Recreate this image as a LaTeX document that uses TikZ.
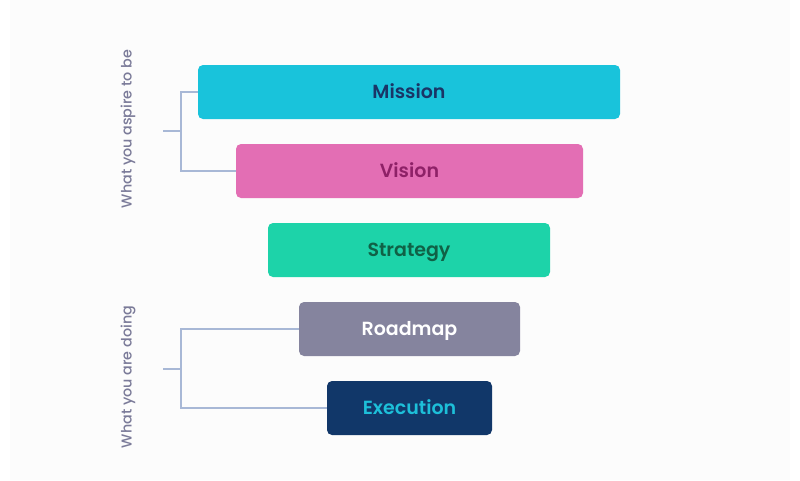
\documentclass[tikz,border=0pt]{standalone}
\usepackage{fontspec}
\setmainfont{Poppins}
\newfontfamily\popsemi{Poppins SemiBold}
\newfontfamily\popmed{Poppins Medium}
\definecolor{bgc}{HTML}{FCFCFC}
\definecolor{misc}{HTML}{19C3DB}
\definecolor{mist}{HTML}{1A3566}
\definecolor{visc}{HTML}{E36EB4}
\definecolor{vist}{HTML}{8E2167}
\definecolor{strc}{HTML}{1DD3A9}
\definecolor{strt}{HTML}{106146}
\definecolor{roac}{HTML}{85849E}
\definecolor{exec}{HTML}{113769}
\definecolor{exet}{HTML}{1DBFD9}
\definecolor{linec}{HTML}{A8B8D6}
\definecolor{labc}{HTML}{7B7B99}
\tikzset{
  bar/.style={rounded corners=5pt, inner sep=0pt, text height=12.6pt, text depth=0pt,
    font=\fontsize{19}{22}\popsemi},
  brk/.style={draw=linec, line width=1.2pt},
  side/.style={text=labc, font=\fontsize{14.3}{17}\popmed, rotate=90}
}
\begin{document}
\begin{tikzpicture}[x=1pt,y=-1pt]
\useasboundingbox (0,0) rectangle (800,480);
\fill[bgc] (10,0) rectangle (790,480);
\node[bar, fill=misc, text=mist, minimum width=422pt, minimum height=54pt] (mission) at (409,92) {Mission};
\node[bar, fill=visc, text=vist, minimum width=347pt, minimum height=54pt] (vision) at (409.5,171) {Vision};
\node[bar, fill=strc, text=strt, minimum width=282pt, minimum height=54pt] (strategy) at (409,250) {Strategy};
\node[bar, fill=roac, text=white, minimum width=221pt, minimum height=54pt] (roadmap) at (409.5,329) {Roadmap};
\node[bar, fill=exec, text=exet, minimum width=165pt, minimum height=54pt] (execution) at (409.5,408) {Execution};
\coordinate (b1) at (181,131);
\coordinate (s1) at (163,131);
\coordinate (b2) at (181,369);
\coordinate (s2) at (163,369);
\draw[brk] (s1) -- (b1);
\draw[brk] (mission.west) -| (b1);
\draw[brk] (vision.west) -| (b1);
\draw[brk] (s2) -- (b2);
\draw[brk] (roadmap.west) -| (b2);
\draw[brk] (execution.west) -| (b2);
\node[side] (aspire) at (128,129) {What you aspire to be};
\node[side] (doing) at (128,377) {What you are doing};
\end{tikzpicture}
\end{document}
